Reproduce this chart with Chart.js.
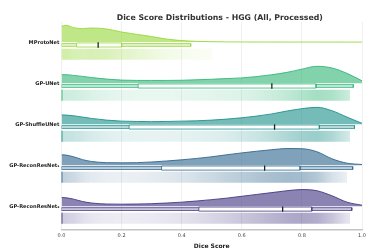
<!DOCTYPE html>
<html>
<head>
<meta charset="utf-8">
<script src="https://cdn.jsdelivr.net/npm/chart.js@4.4.1/dist/chart.umd.min.js"></script>
<style>
  html, body { margin: 0; padding: 0; background: #fff; }
  #wrap { width: 381px; height: 251px; }
</style>
</head>
<body>
<div id="wrap"><canvas id="chart"></canvas></div>
<script>
const titleText = 'Dice Score Distributions - HGG (All, Processed)';
const models = ['MProtoNet', 'GP-UNet', 'GP-ShuffleUNet', 'GP-ReconResNet\u2081', 'GP-ReconResNet\u2082'];
const xTicks = [0, 0.2, 0.4, 0.6, 0.8, 1.0];

// KDE grid (dice score) and relative density per model (peak = 1)
const kdeX = [0, 0.015, 0.04, 0.07, 0.1, 0.15, 0.2, 0.25, 0.3, 0.35, 0.4, 0.45, 0.5, 0.55, 0.6, 0.65, 0.7, 0.75, 0.8, 0.85, 0.9, 0.95, 1.0];
const kdeMProto = [0.94, 1.0, 0.86, 0.8, 0.84, 0.78, 0.6, 0.46, 0.33, 0.18, 0.09, 0.045, 0.022, 0.012, 0.008, 0.006, 0.005, 0.004, 0.004, 0.003, 0.003, 0.002, 0.002];
const kdeUNet = [0.5, 0.5, 0.46, 0.4, 0.33, 0.24, 0.18, 0.16, 0.16, 0.16, 0.17, 0.2, 0.23, 0.27, 0.31, 0.39, 0.5, 0.64, 0.83, 1.0, 0.9, 0.58, 0.14];
const kdeShuffle = [0.55, 0.54, 0.5, 0.42, 0.34, 0.24, 0.18, 0.16, 0.15, 0.16, 0.18, 0.2, 0.24, 0.3, 0.38, 0.48, 0.61, 0.78, 0.92, 1.0, 0.8, 0.42, 0.05];
const kdeRecon1 = [0.62, 0.6, 0.5, 0.33, 0.22, 0.15, 0.14, 0.15, 0.19, 0.25, 0.32, 0.4, 0.5, 0.62, 0.73, 0.83, 0.92, 0.99, 0.98, 0.8, 0.38, 0.12, 0.04];
const kdeRecon2 = [0.52, 0.5, 0.42, 0.28, 0.19, 0.13, 0.12, 0.13, 0.15, 0.19, 0.24, 0.31, 0.39, 0.48, 0.59, 0.7, 0.81, 0.92, 0.99, 0.92, 0.62, 0.24, 0.06];
const kdes = [kdeMProto, kdeUNet, kdeShuffle, kdeRecon1, kdeRecon2];

// box plot stats
const whiskLo = [0, 0, 0, 0, 0];
const q1 = [0.05, 0.255, 0.225, 0.333, 0.457];
const median = [0.122, 0.70, 0.709, 0.676, 0.736];
const q3 = [0.20, 0.847, 0.858, 0.794, 0.833];
const whiskHi = [0.43, 0.971, 0.975, 0.969, 0.966];
const pointsMax = [0.5, 0.96, 0.96, 0.95, 0.96];
const hasZeros = [false, true, true, true, true];

const colors = ['#98d83e', '#35b779', '#21918c', '#31688e', '#443983'];

function rgba(hex, a) {
  const n = parseInt(hex.slice(1), 16);
  return `rgba(${n >> 16},${(n >> 8) & 255},${n & 255},${a})`;
}
function rect(x0, x1, yc, h) {
  return [{x: x0, y: yc - h}, {x: x1, y: yc - h}, {x: x1, y: yc + h}, {x: x0, y: yc + h}, {x: x0, y: yc - h}];
}

const violinH = 0.41;
const datasets = [];

models.forEach((m, i) => {
  const c = colors[i];
  const base = i - 0.07;

  datasets.push({
    data: kdeX.map((x, k) => ({x, y: base - kdes[i][k] * violinH})),
    borderColor: rgba(c, 0.9), borderWidth: 1,
    backgroundColor: rgba(c, 0.62),
    fill: {value: base}, cubicInterpolationMode: 'monotone', order: 3
  });

  // jittered points shown as a density shaded strip
  datasets.push({
    data: rect(0, pointsMax[i], i + 0.225, 0.135),
    borderWidth: 0, fill: 'shape', order: 4,
    backgroundColor: ctx => {
      const chart = ctx.chart;
      if (!chart.chartArea) return 'transparent';
      const xs = chart.scales.x;
      const g = chart.ctx.createLinearGradient(xs.getPixelForValue(0), 0, xs.getPixelForValue(1), 0);
      kdeX.forEach((x, k) => g.addColorStop(x, rgba(c, 0.05 + 0.4 * kdes[i][k])));
      return g;
    }
  });

  if (hasZeros[i]) {
    datasets.push({
      data: [{x: 0, y: i + 0.09}, {x: 0, y: i + 0.36}],
      borderColor: rgba(c, 0.9), borderWidth: 2, order: 2
    });
  }

  datasets.push({
    data: rect(whiskLo[i], whiskHi[i], i, 0.035),
    borderColor: rgba(c, 0.85), borderWidth: 0.9,
    backgroundColor: rgba(c, 0.3), fill: 'shape', order: 2
  });

  datasets.push({
    data: rect(q1[i], q3[i], i, 0.05),
    borderColor: rgba(c, 0.9), borderWidth: 0.9,
    backgroundColor: '#ffffff', fill: 'shape', order: 1
  });

  datasets.push({
    data: [{x: median[i], y: i - 0.065}, {x: median[i], y: i + 0.065}],
    borderColor: '#222', borderWidth: 1.3, order: 0
  });
});

const titlePlugin = {
  id: 'topTitle',
  afterDraw(chart) {
    const {ctx, chartArea} = chart;
    ctx.save();
    ctx.font = 'bold 7.8px "DejaVu Sans"';
    ctx.fillStyle = '#333';
    ctx.textAlign = 'center';
    ctx.textBaseline = 'middle';
    ctx.fillText(titleText, (chartArea.left + chartArea.right) / 2 + 8, 18);
    ctx.restore();
  }
};

Chart.defaults.font.family = '"DejaVu Sans"';

new Chart(document.getElementById('chart'), {
  type: 'line',
  data: {datasets},
  plugins: [titlePlugin],
  options: {
    responsive: true,
    maintainAspectRatio: false,
    animation: false,
    layout: {padding: {top: 22, right: 19, left: 0, bottom: 0}},
    elements: {point: {radius: 0}, line: {tension: 0}},
    plugins: {legend: {display: false}, tooltip: {enabled: false}},
    scales: {
      x: {
        type: 'linear', min: 0, max: 1,
        afterBuildTicks: s => { s.ticks = xTicks.map(v => ({value: v})); },
        afterFit: s => { s.height = 21; },
        ticks: {callback: v => v.toFixed(1), font: {size: 5}, color: '#444', padding: 3},
        grid: {color: '#ececec', lineWidth: 0.8, drawTicks: false},
        border: {display: true, color: '#c4c4c4', width: 1.6},
        title: {display: true, text: 'Dice Score', font: {size: 6, weight: 'bold'}, color: '#222', padding: {top: 1, bottom: 1}}
      },
      y: {
        type: 'linear', min: -0.56, max: 4.51, reverse: true,
        afterBuildTicks: s => { s.ticks = models.map((m, i) => ({value: i - 0.05})); },
        afterFit: s => { s.width = 61.5; },
        ticks: {callback: (v, idx) => models[idx], font: {size: 5.1, weight: 'bold'}, color: '#222', padding: 2},
        grid: {display: false, drawTicks: false, tickLength: 0},
        border: {display: false}
      }
    }
  }
});
</script>
</body>
</html>
